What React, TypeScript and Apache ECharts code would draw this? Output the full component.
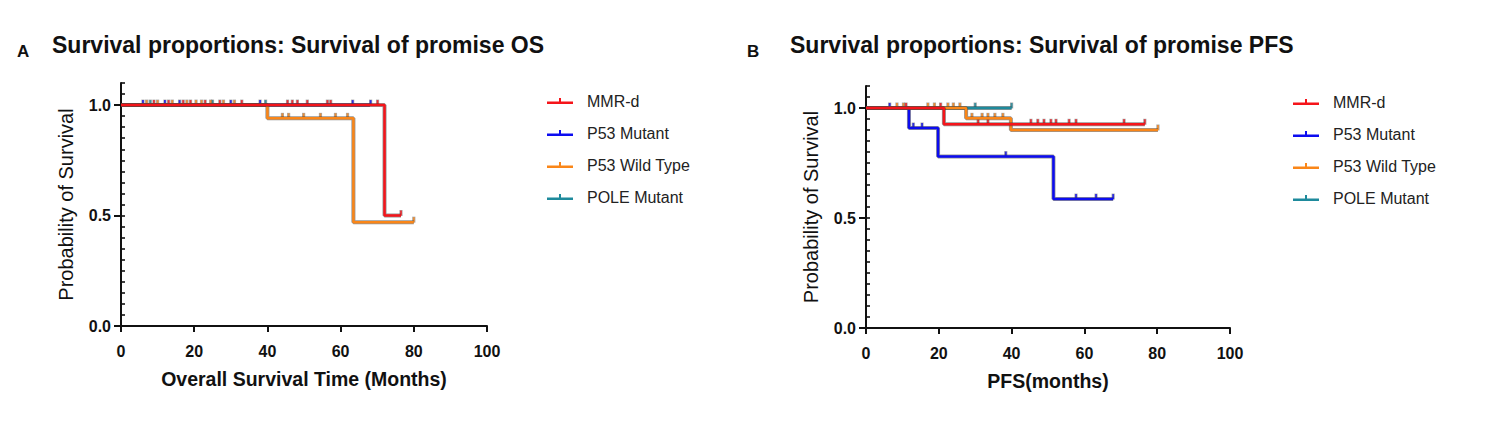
import React, { useEffect, useRef } from 'react';
import * as echarts from 'echarts';

const FONT = 'Liberation Sans, Arial, sans-serif';

const seriesNames = ['MMR-d', 'P53 Mutant', 'P53 Wild Type', 'POLE Mutant'];
const seriesColors = ['#F5141A', '#0C0CF0', '#FA8618', '#1E8A9C'];

const xTicks = [0, 20, 40, 60, 80, 100];
const yMajorTicks = [0, 0.5, 1.0];

// ---- Overall survival (A): step points [months, survival] ----
const osMMRd = [[0, 1], [72, 0.5], [76.5, 0.5]];
const osP53Mut = [[0, 1], [68, 1]];
const osP53Wild = [[0, 1], [40, 0.94], [63.5, 0.47], [80, 0.47]];
const osPOLE = [[0, 1], [40, 1]];

const osMMRdCensor = [[9, 1], [13, 1], [17, 1], [19, 1], [23, 1], [27, 1], [33, 1], [45.5, 1], [46.8, 1], [48.2, 1], [50.9, 1], [56.4, 1], [57.3, 1], [70.1, 1], [76.5, 0.5]];
const osP53MutCensor = [[6, 1], [12, 1], [16, 1], [30, 1], [38, 1], [63.3, 1], [68.2, 1]];
const osP53WildCensor = [[7, 1], [10, 1], [14, 1], [18, 1], [20.5, 1], [22, 1], [24.5, 1], [28, 1], [31, 1], [44.1, 0.94], [45.8, 0.94], [49.9, 0.94], [54.5, 0.94], [58.6, 0.94], [61.9, 0.94], [80, 0.47]];
const osPOLECensor = [[8, 1], [25, 1], [39.5, 1]];

// ---- Progression-free survival (B) ----
const pfsMMRd = [[0, 1], [21.4, 0.926], [76.6, 0.926]];
const pfsP53Mut = [[0, 1], [11.8, 0.909], [19.8, 0.779], [51.5, 0.586], [67.9, 0.586]];
const pfsP53Wild = [[0, 1], [27.5, 0.953], [39.8, 0.9], [80.2, 0.9]];
const pfsPOLE = [[0, 1], [40, 1]];

const pfsMMRdCensor = [[11, 1], [20.5, 1], [30.8, 0.926], [33.5, 0.926], [45.3, 0.926], [47.2, 0.926], [48.9, 0.926], [50.8, 0.926], [52.2, 0.926], [55.8, 0.926], [57.7, 0.926], [70.9, 0.926], [76.6, 0.926]];
const pfsP53MutCensor = [[6.5, 1], [13, 0.909], [15.4, 0.909], [38.4, 0.779], [57.7, 0.586], [63.2, 0.586], [67.9, 0.586]];
const pfsP53WildCensor = [[8.5, 1], [10.3, 1], [17, 1], [18.8, 1], [22.5, 1], [24, 1], [25.8, 1], [29.1, 0.953], [31.9, 0.953], [33.5, 0.953], [35.4, 0.953], [37.6, 0.953], [80.2, 0.9]];
const pfsPOLECensor = [[30, 1], [40, 1]];

const osCurves = [osMMRd, osP53Mut, osP53Wild, osPOLE];
const osCensors = [osMMRdCensor, osP53MutCensor, osP53WildCensor, osPOLECensor];
const pfsCurves = [pfsMMRd, pfsP53Mut, pfsP53Wild, pfsPOLE];
const pfsCensors = [pfsMMRdCensor, pfsP53MutCensor, pfsP53WildCensor, pfsPOLECensor];

const OUTLINE = 'rgba(60,60,60,0.55)';

function buildSeries(curves: number[][][], censors: number[][][], xIdx: number, yIdx: number, tag: string) {
  const out: any[] = [];
  // draw order: POLE (bottom) -> P53 Mutant -> P53 Wild Type -> MMR-d (top)
  const order = [3, 1, 2, 0];
  order.forEach((i) => {
    const color = seriesColors[i];
    out.push({
      type: 'line', name: tag + '_outline_' + i, xAxisIndex: xIdx, yAxisIndex: yIdx,
      data: curves[i], step: 'end', showSymbol: false, silent: true,
      lineStyle: { color: OUTLINE, width: 4 },
    });
    out.push({
      type: 'scatter', name: tag + '_censorOutline_' + i, xAxisIndex: xIdx, yAxisIndex: yIdx,
      data: censors[i], symbol: 'rect', symbolSize: [3.2, 6], symbolOffset: [0, -2.5], silent: true,
      itemStyle: { color: OUTLINE },
    });
    out.push({
      type: 'line', name: seriesNames[i], xAxisIndex: xIdx, yAxisIndex: yIdx,
      data: curves[i], step: 'end', showSymbol: false,
      lineStyle: { color, width: 2.5 }, itemStyle: { color },
    });
    out.push({
      type: 'scatter', name: seriesNames[i], xAxisIndex: xIdx, yAxisIndex: yIdx,
      data: censors[i], symbol: 'rect', symbolSize: [1.8, 5], symbolOffset: [0, -2.5],
      itemStyle: { color },
    });
  });
  return out;
}

const legendIcon = 'path://M0,3.6H26V6H0Z M12,0H14V3.6H12Z';

function makeXAxis(gridIndex: number, name: string) {
  return {
    type: 'value', gridIndex, min: 0, max: 100, interval: 20,
    name, nameLocation: 'middle', nameGap: 43,
    nameTextStyle: { fontFamily: FONT, fontSize: 19.5, fontWeight: 'bold', color: '#111' },
    axisLine: { show: true, onZero: false, lineStyle: { color: '#111', width: 2 } },
    axisTick: { show: true, length: 6, lineStyle: { color: '#111', width: 2 } },
    axisLabel: { fontFamily: FONT, fontSize: 16, fontWeight: 'bold', color: '#111', margin: 17 },
    splitLine: { show: false },
  };
}

function makeYAxes(gridIndex: number) {
  return [
    {
      type: 'value', gridIndex, min: 0, max: 1.1,
      name: 'Probability of Survival', nameLocation: 'middle', nameGap: 45,
      nameTextStyle: { fontFamily: FONT, fontSize: 20, color: '#111' },
      axisLine: { show: true, onZero: false, lineStyle: { color: '#111', width: 2 } },
      axisTick: { show: true, length: 7, customValues: yMajorTicks, lineStyle: { color: '#111', width: 2 } },
      axisLabel: {
        customValues: yMajorTicks, fontFamily: FONT, fontSize: 16, fontWeight: 'bold', color: '#111', margin: 10,
        formatter: (v: number) => v.toFixed(1),
      },
      splitLine: { show: false },
    },
    {
      type: 'value', gridIndex, min: 0, max: 1.1, interval: 0.05,
      axisLine: { show: false },
      axisTick: { show: true, length: 4, lineStyle: { color: '#111', width: 1.6 } },
      axisLabel: { show: false },
      splitLine: { show: false },
    },
  ];
}

function makeLegend(left: number, top: number) {
  return {
    orient: 'vertical', left, top, itemWidth: 26, itemHeight: 6, itemGap: 16,
    selectedMode: false,
    textStyle: { fontFamily: FONT, fontSize: 16, color: '#222', padding: [0, 0, 0, 9] },
    data: seriesNames.map((n, i) => ({ name: n, icon: legendIcon, itemStyle: { color: seriesColors[i] } })),
  };
}

export default function App() {
  const ref = useRef<HTMLDivElement>(null);
  useEffect(() => {
    document.body.style.margin = '0';
    if (!ref.current) return;
    const chart = echarts.init(ref.current, undefined, { renderer: 'svg' });
    const option: any = {
      animation: false,
      backgroundColor: '#ffffff',
      title: [
        { text: 'A', left: 17, top: 43, padding: 0, textStyle: { fontFamily: FONT, fontSize: 17, fontWeight: 'bold', color: '#111' } },
        { text: 'Survival proportions: Survival of promise OS', left: 52, top: 33, padding: 0, textStyle: { fontFamily: FONT, fontSize: 23, fontWeight: 'bold', color: '#111' } },
        { text: 'B', left: 747, top: 43, padding: 0, textStyle: { fontFamily: FONT, fontSize: 17, fontWeight: 'bold', color: '#111' } },
        { text: 'Survival proportions: Survival of promise PFS', left: 790, top: 33, padding: 0, textStyle: { fontFamily: FONT, fontSize: 23, fontWeight: 'bold', color: '#111' } },
      ],
      legend: [makeLegend(542, 88), makeLegend(1288, 89)],
      grid: [
        { left: 121, top: 83, width: 366, height: 243 },
        { left: 866, top: 86, width: 364, height: 242 },
      ],
      xAxis: [makeXAxis(0, 'Overall Survival Time (Months)'), makeXAxis(1, 'PFS(months)')],
      yAxis: [...makeYAxes(0), ...makeYAxes(1)],
      series: [
        ...buildSeries(osCurves, osCensors, 0, 0, 'os'),
        ...buildSeries(pfsCurves, pfsCensors, 1, 2, 'pfs'),
      ],
    };
    chart.setOption(option);
    return () => chart.dispose();
  }, []);
  return <div ref={ref} style={{ width: 1488, height: 424 }} />;
}
